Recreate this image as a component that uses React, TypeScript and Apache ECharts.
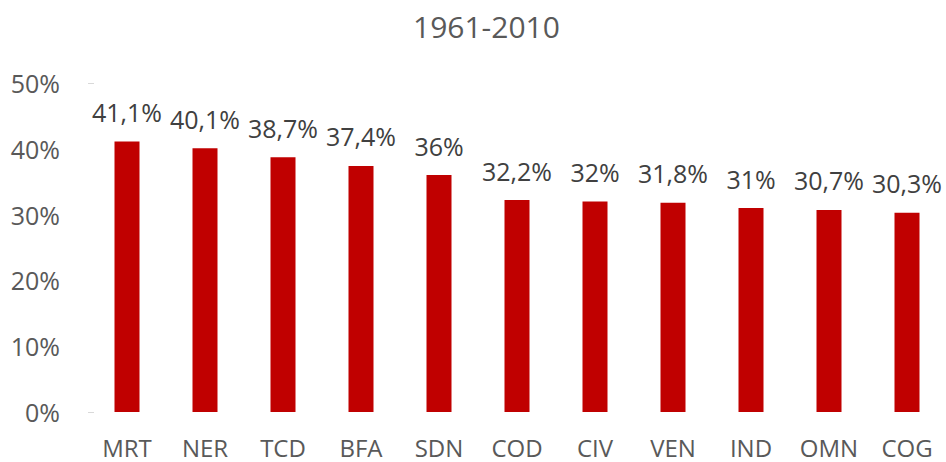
import React, { useEffect, useRef } from "react";
import * as echarts from "echarts";

const categories = ["MRT", "NER", "TCD", "BFA", "SDN", "COD", "CIV", "VEN", "IND", "OMN", "COG"];
const values = [41.1, 40.1, 38.7, 37.4, 36, 32.2, 32, 31.8, 31, 30.7, 30.3];
const titleText = "1961-2010";
const yTicks = [0, 10, 20, 30, 40, 50];

const FONT = "'Open Sans', 'Liberation Sans', sans-serif";

export default function App() {
  const ref = useRef<HTMLDivElement>(null);
  useEffect(() => {
    if (!ref.current) return;
    const chart = echarts.init(ref.current, undefined, { renderer: "svg" });
    chart.setOption({
      animation: false,
      backgroundColor: "#ffffff",
      title: {
        text: titleText,
        left: 408,
        top: 6,
        textStyle: { fontFamily: FONT, fontSize: 30, fontWeight: "normal", color: "#595959" },
      },
      grid: { left: 88, right: 0, top: 83, bottom: 50, containLabel: false },
      xAxis: {
        type: "category",
        data: categories,
        axisLine: { show: false },
        axisTick: { show: false },
        axisLabel: {
          interval: 0,
          fontFamily: FONT,
          fontSize: 24,
          lineHeight: 22,
          color: "#595959",
          margin: 24,
        },
      },
      yAxis: [
        {
          type: "value",
          min: yTicks[0],
          max: yTicks[yTicks.length - 1],
          interval: 10,
          splitLine: { show: false },
          axisLine: { show: false },
          axisTick: { show: false },
          axisLabel: {
            fontFamily: FONT,
            fontSize: 25,
            color: "#595959",
            margin: 28,
            formatter: (v: number) => `${v}%`,
          },
        },
        {
          type: "value",
          position: "left",
          min: 0,
          max: 50,
          interval: 50,
          splitLine: { show: false },
          axisLine: { show: false },
          axisLabel: { show: false },
          axisTick: { show: true, inside: true, length: 6, lineStyle: { color: "#d9d9d9", width: 1 } },
        },
      ],
      series: [
        {
          type: "bar",
          data: values,
          barWidth: 25,
          itemStyle: { color: "#C00000" },
          label: {
            show: true,
            position: "top",
            distance: 17,
            fontFamily: FONT,
            fontSize: 25,
            color: "#404040",
            formatter: (p: any) => `${String(p.value).replace(".", ",")}%`,
          },
        },
      ],
    });
    return () => chart.dispose();
  }, []);
  return <div ref={ref} style={{ width: 946, height: 462, position: "absolute", left: 0, top: 0 }} />;
}
